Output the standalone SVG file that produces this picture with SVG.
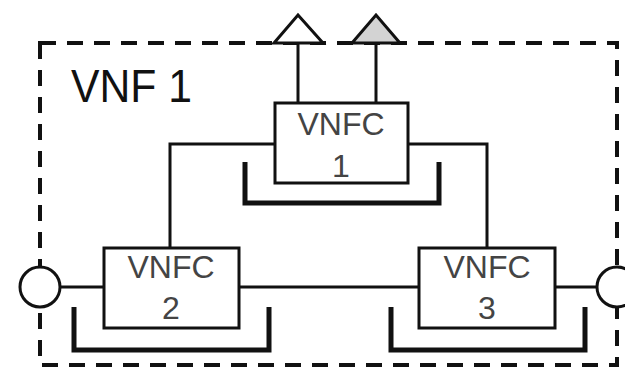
<svg xmlns="http://www.w3.org/2000/svg" width="625" height="369" viewBox="0 0 625 369">
<style>
.frame{fill:none;stroke:#111;stroke-width:4;stroke-dasharray:16 11}
.box{fill:#fff;stroke:#111;stroke-width:3}
.ln{fill:none;stroke:#111;stroke-width:3}
.br{fill:none;stroke:#111;stroke-width:5}
.port{fill:#fff;stroke:#111;stroke-width:3}
.t{font-family:"Liberation Sans",Arial,sans-serif;font-size:32px;fill:#444;text-anchor:middle}
.title{font-family:"Liberation Sans",Arial,sans-serif;font-size:47px;fill:#111}
</style>
<rect width="625" height="369" fill="#fff"/>
<g id="vnf1">
<rect class="frame" x="40" y="43" width="577" height="322"/>
<text class="title" x="71" y="102" textLength="121" lengthAdjust="spacingAndGlyphs">VNF 1</text>
</g>
<g id="connectors">
<line class="ln" x1="298" y1="43" x2="298" y2="103"/>
<line class="ln" x1="376" y1="43" x2="376" y2="103"/>
<polyline class="ln" points="275,144 170,144 170,248"/>
<polyline class="ln" points="408,144 487,144 487,248"/>
<line class="ln" x1="239" y1="287" x2="419" y2="287"/>
<line class="ln" x1="60" y1="287" x2="104" y2="287"/>
<line class="ln" x1="555" y1="287" x2="597" y2="287"/>
</g>
<g id="port-out1"><polygon class="port" points="274,43 298,15 323,43"/></g>
<g id="port-out2"><polygon class="port" points="352,43 376,15 400,43" style="fill:#d3d3d3"/></g>
<g id="port-left"><circle class="port" cx="40" cy="287" r="20"/></g>
<g id="port-right"><circle class="port" cx="617" cy="287" r="20"/></g>
<g id="vnfc1">
<rect class="box" x="275" y="103" width="133" height="80"/>
<text class="t" x="341" y="135">VNFC</text>
<text class="t" x="341" y="177">1</text>
<polyline class="br" points="245,162 245,203 439,203 439,162"/>
</g>
<g id="vnfc2">
<rect class="box" x="104" y="248" width="135" height="80"/>
<text class="t" x="171" y="278">VNFC</text>
<text class="t" x="171" y="319">2</text>
<polyline class="br" points="74,307 74,350 269,350 269,307"/>
</g>
<g id="vnfc3">
<rect class="box" x="419" y="248" width="136" height="80"/>
<text class="t" x="487" y="278">VNFC</text>
<text class="t" x="487" y="319">3</text>
<polyline class="br" points="391,307 391,350 585,350 585,307"/>
</g>
</svg>
